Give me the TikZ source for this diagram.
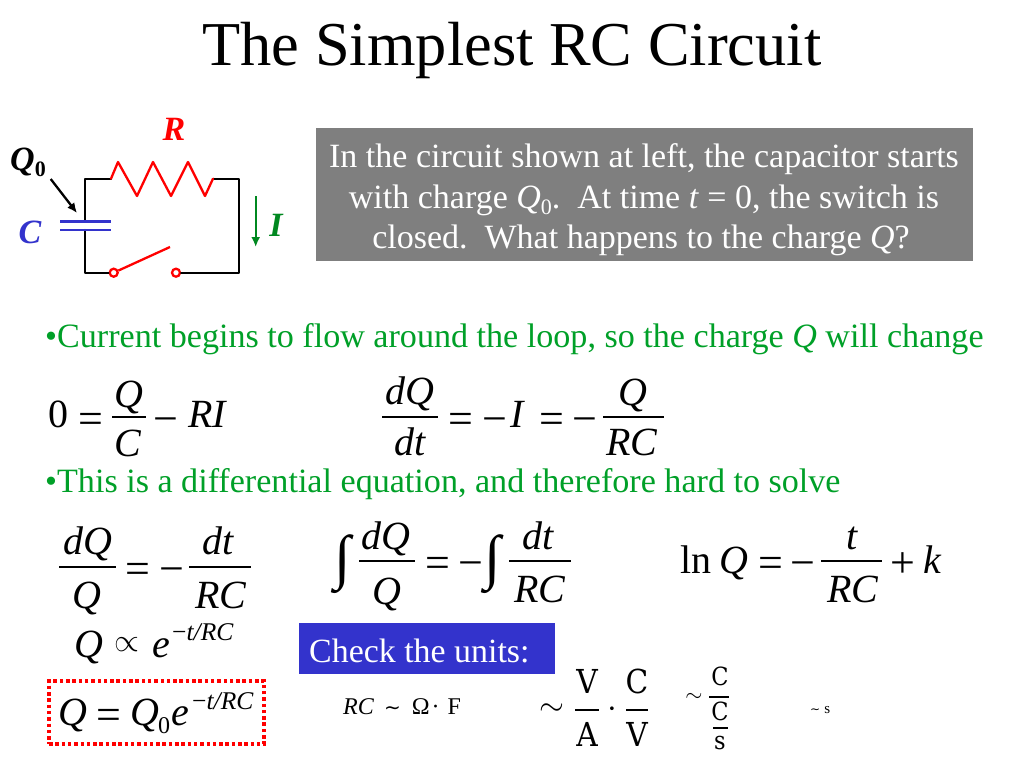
\documentclass[tikz,border=0pt]{standalone}
\usepackage{fontspec}
\usetikzlibrary{arrows.meta}
\setmainfont{Liberation Serif}
\newfontfamily\djvfont{DejaVu Sans}
\newfontfamily\unitfont{DejaVu Serif Condensed}
\newcommand\FS[1]{\fontsize{#1}{#1}\selectfont}
\definecolor{grn}{RGB}{0,160,40}
\definecolor{dgrn}{RGB}{0,136,32}
\definecolor{blu}{RGB}{51,51,204}
\definecolor{gry}{RGB}{127,127,127}
\tikzset{
 x=1pt,y=-1pt,
 lab/.style={inner sep=0pt,anchor=base},
 eq/.style={lab,yshift=-2pt,font=\FS{40}\itshape},
 rm/.style={lab,yshift=-2pt,font=\FS{40}},
 op/.style={lab,yshift=-2pt,font=\FS{44}},
 sup/.style={lab,yshift=-2pt,anchor=base west,font=\FS{25.5}\itshape},
 bigint/.style={lab,font=\FS{60}},
 unit/.style={lab,font=\unitfont\FS{33}},
 unitb/.style={lab,font=\unitfont\FS{25}},
 tilde/.style={inner sep=0pt,scale=#1},
 bar/.style={line width=1.5pt},
 wire/.style={line width=2.3pt,line cap=round,line join=round},
 contact/.style={circle,draw=red,line width=2.3pt,fill=white,minimum size=8pt,inner sep=0pt},
 para/.style={lab,anchor=base west,font=\FS{34.1},text=grn},
 white text/.style={lab,font=\FS{34},text=white},
 clab/.style={lab,font=\FS{34}\bfseries\itshape},
}
\begin{document}
\begin{tikzpicture}
\path[use as bounding box,fill=white] (0,0) rectangle (1024,768);
\node[lab,font=\FS{62.4}] (title) at (512,66) {The Simplest RC Circuit};
% question box
\node[fill=gry,inner sep=0pt,minimum width=657pt,minimum height=133pt] (qbox) at (644.5,194.5) {};
\node[white text] (q1) at (644,167) {In the circuit shown at left, the capacitor starts};
\node[white text] (q2) at (644,208) {with charge \textit{Q}\raisebox{-0.2em}{\FS{22}0}.\ \ At time \textit{t} = 0, the switch is};
\node[white text] (q3) at (641,248) {closed.\ \ What happens to the charge \textit{Q}?};
% circuit
\coordinate (tl) at (85,178.7);
\coordinate (tr) at (238.7,178.7);
\coordinate (bl) at (85,272.7);
\coordinate (br) at (238.7,272.7);
\coordinate (rl) at (111,178.7);
\coordinate (rr) at (213,178.7);
\coordinate (capt) at (85,221.7);
\coordinate (capb) at (85,230);
\coordinate (p1l) at (60,221.7);
\coordinate (p1r) at (110.7,221.7);
\coordinate (p2l) at (60,230);
\coordinate (p2r) at (110.7,230);
\node[contact] (s1) at (113.7,272.7) {};
\node[contact] (s2) at (176,272.7) {};
\coordinate (arm) at (170,247);
\draw[wire] (capt) -- (tl) -- (rl);
\draw[wire] (rr) -- (tr) -- (br) -- (s2);
\draw[wire] (capb) -- (bl) -- (s1);
\draw[wire,red] (rl) -- (118,162) -- (137,196) -- (153,162) -- (171,196) -- (188,162) -- (205,196) -- (rr);
\draw[line width=2.7pt,blu] (p1l) -- (p1r);
\draw[line width=2.7pt,blu] (p2l) -- (p2r);
\draw[line width=2.3pt,red] (s1) -- (arm);
\coordinate (qa) at (50.7,179);
\coordinate (qb) at (77,213);
\draw[line width=2.3pt,-{Latex[length=10pt,width=9pt]}] (qa) -- (qb);
\coordinate (ia) at (255.7,196);
\coordinate (ib) at (255.7,247);
\draw[line width=2.3pt,dgrn,-{Latex[length=10pt,width=9pt]}] (ia) -- (ib);
\node[clab,text=red] (R) at (174,140) {R};
\node[clab,anchor=base west] (Q0) at (10,170) {Q\raisebox{-0.2em}{\FS{22}\upshape 0}};
\node[clab,text=blu] (C) at (30,243) {C};
\node[clab,text=dgrn] (I) at (276,236) {I};
% paragraphs
\node[para] (p1) at (45,347) {•Current begins to flow around the loop, so the charge \textit{Q} will change};
\node[para] (p2) at (45,492) {•This is a differential equation, and therefore hard to solve};
% eq1
\node[rm] (a0) at (58,425) {0};
\node[op] (a1) at (90.5,431) {=};
\node[eq] (a2) at (129,405) {Q};
\node[eq] (a3) at (128,454) {C};
\draw[bar] (112,417) -- (146,417);
\node[op] (a4) at (166,431) {−};
\node[eq] (a5) at (207,425.5) {RI};
% eq2
\node[eq] (b1) at (410,402.5) {dQ};
\node[eq] (b2) at (410,453) {dt};
\draw[bar] (382,417) -- (438,417);
\node[op] (b3) at (461,431) {=};
\node[op] (b4) at (495,431) {−};
\node[eq] (b5) at (517,425) {I};
\node[op] (b6) at (552,431) {=};
\node[op] (b7) at (585,431) {−};
\node[eq] (b8) at (633,403) {Q};
\node[eq] (b9) at (632,453) {RC};
\draw[bar] (603,417) -- (664,417);
% eq3
\node[eq] (c1) at (88,552) {dQ};
\node[eq] (c2) at (87,606) {Q};
\draw[bar] (59,567) -- (116,567);
\node[op] (c3) at (138,581) {=};
\node[op] (c4) at (172,581) {−};
\node[eq] (c5) at (218,552) {dt};
\node[eq] (c6) at (221,606) {RC};
\draw[bar] (189,567) -- (251,567);
% eq4
\node[bigint] (d0) at (343,577) {∫};
\node[eq] (d1) at (386,547) {dQ};
\node[eq] (d2) at (387,602) {Q};
\draw[bar] (359,561) -- (415,561);
\node[op] (d3) at (438,575) {=};
\node[op] (d4) at (471,575) {−};
\node[bigint] (d5) at (493,577) {∫};
\node[eq] (d6) at (538,547) {dt};
\node[eq] (d7) at (540,600) {RC};
\draw[bar] (509,561) -- (571,561);
% eq5
\node[rm] (e1) at (696,571) {ln};
\node[eq] (e2) at (734,571) {Q};
\node[op] (e3) at (771,575) {=};
\node[op] (e4) at (803,575) {−};
\node[eq] (e5) at (852,547) {t};
\node[eq] (e6) at (853,600) {RC};
\draw[bar] (821,561) -- (882,561);
\node[op] (e7) at (903,575) {+};
\node[eq] (e8) at (932,571) {k};
% proportional
\node[eq] (f1) at (89,655) {Q};
\node[tilde=3.2] (f2) at (127,645) {$\propto$};
\node[eq] (f3) at (161,655) {e};
\node[sup] (f4) at (172,638) {\upshape−\itshape t/RC};
% boxed
\node[draw=red,line width=3.5pt,dash pattern=on 3.5pt off 2.8pt,inner sep=0pt,minimum width=215pt,minimum height=63pt] (box) at (156.5,712.5) {};
\node[eq] (g1) at (73,723) {Q};
\node[op] (g2) at (108.5,727) {=};
\node[eq] (g3) at (145,723) {Q};
\node[lab,font=\FS{24}] (g4) at (164,733) {0};
\node[eq] (g5) at (180,723) {e};
\node[sup] (g6) at (192,707) {\upshape−\itshape t/RC};
% check
\node[fill=blu,inner sep=0pt,minimum width=256pt,minimum height=51pt] (chk) at (427,648.5) {};
\node[lab,anchor=base west,font=\FS{33.9},text=white] (chkt) at (309,662) {Check the units:};
% units
\node[lab,anchor=base west,font=\FS{24}] (h1) at (343,714) {\textit{RC}\hspace{10pt}{\djvfont\FS{20}∼}\hspace{11pt}Ω\hspace{2pt}·\hspace{8pt}F};
\node[tilde=3.2] (i1) at (552,710) {$\sim$};
\node[unit] (i2) at (587,693) {V};
\node[unit] (i3) at (587,746) {A};
\draw[bar] (575,710) -- (599,710);
\node[tilde=3.5] (i4) at (612,710) {$\cdot$};
\node[unit] (i5) at (637,693) {C};
\node[unit] (i6) at (637,746) {V};
\draw[bar] (626,710) -- (648,710);
\node[tilde=2.2] (j1) at (694,697) {$\sim$};
\node[unitb] (j2) at (720,685) {C};
\draw[line width=1.3pt] (709,697) -- (729,697);
\node[unitb] (j3) at (720,720) {C};
\draw[line width=1.3pt] (713,728) -- (728,728);
\node[unitb] (j4) at (720,749) {s};
\node[lab,anchor=base west,font=\FS{15}] (k1) at (810,713) {{\djvfont\FS{12}∼}\hspace{4pt}s};
\end{tikzpicture}
\end{document}
